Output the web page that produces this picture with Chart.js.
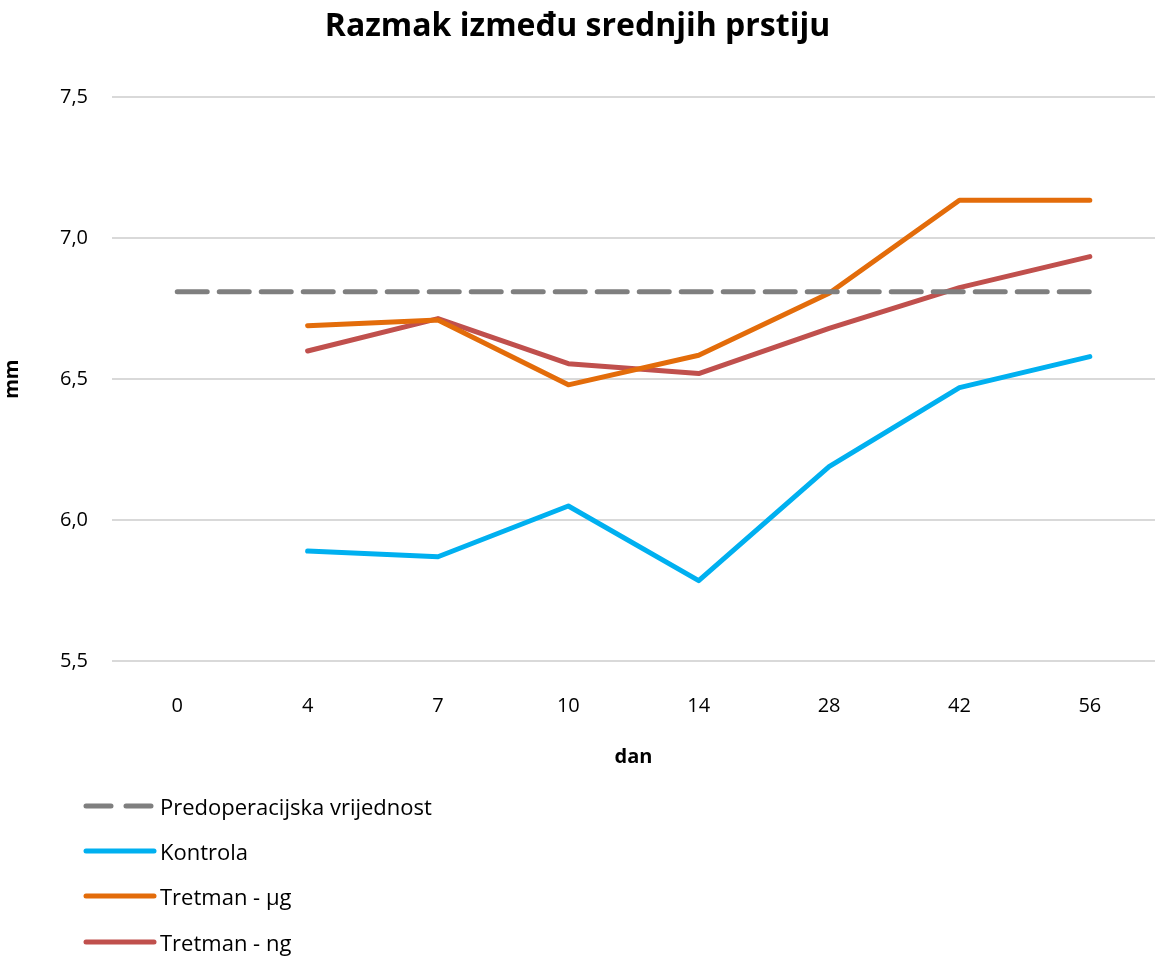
<!DOCTYPE html>
<html>
<head>
<meta charset="utf-8">
<script src="https://cdn.jsdelivr.net/npm/chart.js@4/dist/chart.umd.min.js"></script>
<style>
  body { margin: 0; background: #fff; font-family: "Open Sans", sans-serif; }
  #wrap { position: relative; width: 1155px; height: 769px; }
  #legend { margin-left: 83px; margin-top: 14px; }
  .item { display: flex; align-items: center; height: 45.3px; font-size: 22px; color: #000; }
  .item canvas { margin-right: 3px; }
</style>
</head>
<body>
<div id="wrap"><canvas id="chart"></canvas></div>
<div id="legend"></div>
<script>
// days after surgery
const days = ['0', '4', '7', '10', '14', '28', '42', '56'];

// values (mm)
const predop = [6.81, 6.81, 6.81, 6.81, 6.81, 6.81, 6.81, 6.81];
const kontrola = [null, 5.89, 5.87, 6.05, 5.785, 6.19, 6.47, 6.58];
const tretmanUg = [null, 6.69, 6.71, 6.48, 6.585, 6.805, 7.135, 7.135];
const tretmanNg = [null, 6.60, 6.715, 6.555, 6.52, 6.68, 6.825, 6.935];

const yTicks = [5.5, 6.0, 6.5, 7.0, 7.5];

const series = [
    { label: 'Predoperacijska vrijednost', data: predop, color: '#7f7f7f', dash: [30, 12] },
    { label: 'Kontrola', data: kontrola, color: '#00b0f0', dash: [] },
    { label: 'Tretman - µg', data: tretmanUg, color: '#e36c0a', dash: [] },
    { label: 'Tretman - ng', data: tretmanNg, color: '#c0504d', dash: [] }
];

const font = "'Open Sans', sans-serif";

const ctx = document.getElementById('chart').getContext('2d');
const chart = new Chart(ctx, {
    type: 'line',
    data: {
        labels: days,
        datasets: series.map(s => ({
            label: s.label,
            data: s.data,
            borderColor: s.color,
            backgroundColor: s.color,
            borderWidth: 5,
            borderDash: s.dash,
            borderCapStyle: 'round',
            borderJoinStyle: 'round',
            pointRadius: 0,
            tension: 0,
            fill: false
        }))
    },
    options: {
        responsive: true,
        maintainAspectRatio: false,
        animation: false,
        layout: { padding: { left: 0, right: 0, top: 0, bottom: 0 } },
        plugins: {
            legend: { display: false },
            tooltip: { enabled: false },
            title: {
                display: true,
                text: 'Razmak između srednjih prstiju',
                color: '#000',
                font: { family: font, size: 32, weight: 'bold' },
                padding: { top: 8, bottom: 51 }
            }
        },
        scales: {
            x: {
                offset: true,
                grid: { display: false },
                border: { display: false },
                ticks: { color: '#000', font: { family: font, size: 20 }, padding: 25 },
                title: {
                    display: true, text: 'dan', color: '#000',
                    font: { family: font, size: 20, weight: 'bold' },
                    padding: { top: 2, bottom: 0 }
                }
            },
            y: {
                min: 5.5,
                max: 7.5,
                afterBuildTicks: axis => { axis.ticks = yTicks.map(v => ({ value: v })); },
                grid: { color: '#d9d9d9', lineWidth: 2, drawTicks: false },
                border: { display: false },
                ticks: {
                    color: '#000',
                    font: { family: font, size: 20 },
                    padding: 24,
                    callback: v => v.toFixed(1).replace('.', ',')
                },
                title: {
                    display: true, text: 'mm', color: '#000',
                    font: { family: font, size: 20, weight: 'bold' },
                    padding: { top: 0, bottom: 12 }
                }
            }
        }
    }
});

// legend as a vertical list under the chart
const legend = document.getElementById('legend');
series.forEach(s => {
    const row = document.createElement('div');
    row.className = 'item';
    const c = document.createElement('canvas');
    c.width = 74; c.height = 12;
    const g = c.getContext('2d');
    g.strokeStyle = s.color;
    g.lineWidth = 5;
    g.lineCap = 'round';
    g.setLineDash(s.dash.length ? [25, 15] : []);
    g.beginPath(); g.moveTo(3, 6); g.lineTo(71, 6); g.stroke();
    row.appendChild(c);
    const t = document.createElement('span');
    t.textContent = s.label;
    row.appendChild(t);
    legend.appendChild(row);
});
</script>
</body>
</html>
